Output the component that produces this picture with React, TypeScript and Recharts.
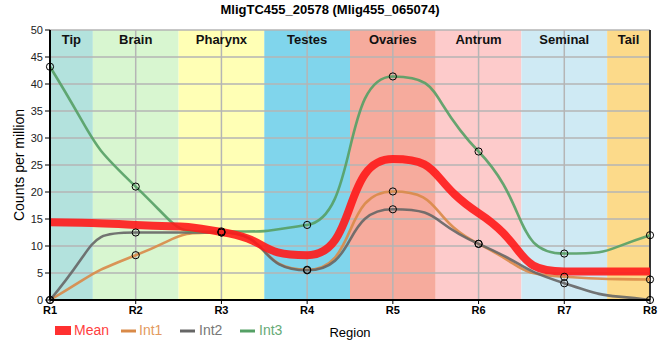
import React from 'react';
import {
  ComposedChart, Line, XAxis, YAxis, ReferenceArea, CartesianGrid, ReferenceLine,
} from 'recharts';

const regions = ['R1', 'R2', 'R3', 'R4', 'R5', 'R6', 'R7', 'R8'];
const meanValues = [14.4, 13.9, 12.6, 8.3, 26.1, 16.1, 5.3, 5.3];
const int1Values = [0, 8.3, 12.5, 5.6, 20.1, 10.4, 4.3, 3.8];
const int2Values = [0, 12.5, 12.5, 5.5, 16.8, 10.4, 3.1, 0];
const int3Values = [43.2, 21.0, 12.7, 13.9, 41.4, 27.5, 8.6, 12.0];

const bandNames = ['Tip', 'Brain', 'Pharynx', 'Testes', 'Ovaries', 'Antrum', 'Seminal', 'Tail'];
const bandColors = ['#b3e2dd', '#d8f6d0', '#ffffb5', '#80d5ec', '#f6ab9d', '#fdcbcb', '#cfeaf4', '#fcda8a'];

const yTicks = [0, 5, 10, 15, 20, 25, 30, 35, 40, 45, 50];
const xTicks = regions.map((_, i) => i + 1);
const xDomain = [1, 8];

const data = regions.map((r, i) => ({
  x: i + 1,
  region: r,
  mean: meanValues[i],
  int1: int1Values[i],
  int2: int2Values[i],
  int3: int3Values[i],
}));

const series = [
  { key: 'int1', name: 'Int1', color: '#d98a48' },
  { key: 'int2', name: 'Int2', color: '#666666' },
  { key: 'int3', name: 'Int3', color: '#55a065' },
];

const FONT = '"Liberation Sans", Arial, sans-serif';
const Z: any = { zIndex: 150 };

// Smooth curve through the points: monotone tangents, long control arms.
const ARM = 0.6;
function sign(v: number) { return v < 0 ? -1 : 1; }
class SharpCurve {
  _context: any;
  _xs: number[] = [];
  _ys: number[] = [];
  _line = NaN;
  constructor(context: any) { this._context = context; }
  areaStart() { this._line = 0; }
  areaEnd() { this._line = NaN; }
  lineStart() { this._xs = []; this._ys = []; }
  point(x: number, y: number) { this._xs.push(+x); this._ys.push(+y); }
  lineEnd() {
    const xs = this._xs, ys = this._ys, n = xs.length;
    const ctx = this._context;
    if (n === 0) return;
    if (this._line) ctx.lineTo(xs[0], ys[0]); else ctx.moveTo(xs[0], ys[0]);
    if (n === 1) return;
    if (n === 2) { ctx.lineTo(xs[1], ys[1]); return; }
    const m: number[] = new Array(n).fill(0);
    for (let i = 1; i < n - 1; i++) {
      const h0 = xs[i] - xs[i - 1], h1 = xs[i + 1] - xs[i];
      const s0 = (ys[i] - ys[i - 1]) / (h0 || 1e-9);
      const s1 = (ys[i + 1] - ys[i]) / (h1 || 1e-9);
      const p = (s0 * h1 + s1 * h0) / (h0 + h1);
      m[i] = (sign(s0) + sign(s1)) * Math.min(Math.abs(s0), Math.abs(s1), 0.5 * Math.abs(p)) || 0;
    }
    {
      const h = xs[1] - xs[0];
      const s = (ys[1] - ys[0]) / (h || 1e-9);
      m[0] = (3 * s - m[1]) / 2;
      const h2 = xs[n - 1] - xs[n - 2];
      const s2 = (ys[n - 1] - ys[n - 2]) / (h2 || 1e-9);
      m[n - 1] = (3 * s2 - m[n - 2]) / 2;
    }
    for (let i = 0; i < n - 1; i++) {
      const h = xs[i + 1] - xs[i];
      const d = ARM * h;
      ctx.bezierCurveTo(
        xs[i] + d, ys[i] + d * m[i],
        xs[i + 1] - d, ys[i + 1] - d * m[i + 1],
        xs[i + 1], ys[i + 1],
      );
    }
  }
}
const sharpCurve: any = (context: any) => new SharpCurve(context);

const Dot = (props: any) => {
  const { cx, cy } = props;
  if (cx == null || cy == null) return null;
  return <circle cx={cx} cy={cy} r={3.6} fill="none" stroke="#000" strokeWidth={1} />;
};

export default function App() {
  return (
    <div style={{ position: 'absolute', left: 0, top: 0, fontFamily: FONT }}>
      <ComposedChart
        width={660}
        height={360}
        data={data}
        margin={{ top: 30, right: 10, left: 0, bottom: 0 }}
      >
        {bandNames.map((name, i) => (
          <ReferenceArea
            key={name}
            x1={Math.max(xDomain[0], i + 0.5)}
            x2={Math.min(xDomain[1], i + 1.5)}
            y1={0}
            y2={50}
            fill={bandColors[i]}
            fillOpacity={1}
            stroke="none"
            label={{
              value: name,
              position: 'insideTop',
              offset: 5,
              fontSize: 13,
              fontWeight: 'bold',
              fill: '#111',
              fontFamily: FONT,
            }}
          />
        ))}
        <CartesianGrid stroke="#b5b5b5" strokeWidth={1.5} {...Z} />
        <ReferenceLine x={xDomain[1]} stroke="#333" strokeWidth={2} ifOverflow="visible" {...Z} />
        <XAxis
          dataKey="x"
          type="number"
          domain={xDomain}
          ticks={xTicks}
          tickFormatter={(v: number) => regions[v - 1]}
          height={60}
          axisLine={{ stroke: '#000', strokeWidth: 2 }}
          tickLine={{ stroke: '#000' }}
          tickSize={4}
          tick={{ fontSize: 11, fontWeight: 'bold', fill: '#000', fontFamily: FONT }}
          label={{ value: 'Region', position: 'insideBottom', offset: 23, fontSize: 13, fill: '#000', fontFamily: FONT }}
        />
        <YAxis
          type="number"
          domain={[0, 50]}
          ticks={yTicks}
          width={50}
          axisLine={{ stroke: '#000', strokeWidth: 2 }}
          tickLine={{ stroke: '#000' }}
          tickSize={5}
          tick={{ fontSize: 11, fill: '#222', fontFamily: FONT }}
        />
        {series.map((s) => (
          <Line
            key={s.key}
            dataKey={s.key}
            type={sharpCurve}
            stroke={s.color}
            strokeWidth={2.6}
            strokeOpacity={0.9}
            dot={false}
            activeDot={false}
            isAnimationActive={false}
          />
        ))}
        <Line
          dataKey="mean"
          type={sharpCurve}
          stroke="#ff1a1a"
          strokeWidth={8}
          strokeOpacity={0.9}
          dot={false}
          activeDot={false}
          isAnimationActive={false}
        />
        {series.map((s) => (
          <Line
            key={s.key + '-dots'}
            dataKey={s.key}
            type="linear"
            stroke="none"
            dot={<Dot />}
            activeDot={false}
            isAnimationActive={false}
          />
        ))}
        <text x={330} y={14} textAnchor="middle" fontSize={13} fontWeight="bold" fill="#000" fontFamily={FONT}>
          MligTC455_20578 (Mlig455_065074)
        </text>
        <text
          x={19}
          y={165}
          transform="rotate(-90 19 165)"
          textAnchor="middle"
          dominantBaseline="central"
          fontSize={14}
          fill="#000"
          fontFamily={FONT}
        >
          Counts per million
        </text>
        <g fontFamily={FONT} fontSize={14}>
          <rect x={55} y={326} width={16} height={9} fill="#ff1a1a" fillOpacity={0.9} />
          <text x={74} y={335} fill="#ff4040">Mean</text>
          <line x1={121} y1={331} x2={136} y2={331} stroke="#d98a48" strokeWidth={3} />
          <text x={139} y={335} fill="#e39a60">Int1</text>
          <line x1={180} y1={331} x2={195} y2={331} stroke="#666" strokeWidth={3} />
          <text x={199} y={335} fill="#777">Int2</text>
          <line x1={240} y1={331} x2={255} y2={331} stroke="#55a065" strokeWidth={3} />
          <text x={259} y={335} fill="#66aa77">Int3</text>
        </g>
      </ComposedChart>
    </div>
  );
}
